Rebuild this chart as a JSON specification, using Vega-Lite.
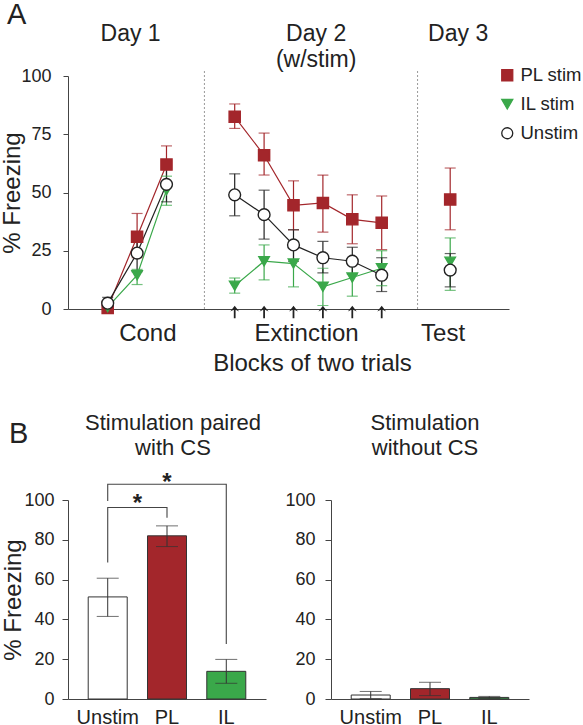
{
  "$schema": "https://vega.github.io/schema/vega-lite/v6.json",
  "padding": {"left": 0, "top": 0, "right": 0, "bottom": 0},
  "background": "white",
  "config": {
    "font": "Liberation Sans",
    "view": {"stroke": null},
    "axis": {"labelColor": "#222", "titleColor": "#222", "domainColor": "#444", "tickColor": "#444", "grid": false, "titleFontWeight": "normal", "labelFont": "Liberation Sans", "titleFont": "Liberation Sans", "labelOverlap": false},
    "title": {"color": "#222", "fontWeight": "normal", "font": "Liberation Sans"},
    "legend": {"labelFont": "Liberation Sans"}
  },
  "resolve": {"scale": {"color": "independent", "fill": "independent", "stroke": "independent", "shape": "independent", "size": "independent"}},
  "datasets": {
    "timecourse": [
      {"series": "PL stim", "seg": "cond", "x": 1.35, "y": 0.5, "lo": null, "hi": null},
      {"series": "PL stim", "seg": "cond", "x": 2.35, "y": 31, "lo": 22, "hi": 41},
      {"series": "PL stim", "seg": "cond", "x": 3.35, "y": 62, "lo": 54, "hi": 70},
      {"series": "IL stim", "seg": "cond", "x": 1.35, "y": 0.8, "lo": 0, "hi": 1.5},
      {"series": "IL stim", "seg": "cond", "x": 2.35, "y": 14.5, "lo": 10.5, "hi": 17},
      {"series": "IL stim", "seg": "cond", "x": 3.35, "y": 51, "lo": 44.5, "hi": 57},
      {"series": "Unstim", "seg": "cond", "x": 1.35, "y": 2.5, "lo": 0, "hi": 5},
      {"series": "Unstim", "seg": "cond", "x": 2.35, "y": 24, "lo": 16, "hi": 32},
      {"series": "Unstim", "seg": "cond", "x": 3.35, "y": 53.5, "lo": 46, "hi": 61},
      {"series": "PL stim", "seg": "ext", "x": 5.67, "y": 82.5, "lo": 77.5, "hi": 88},
      {"series": "PL stim", "seg": "ext", "x": 6.67, "y": 66, "lo": 57.5, "hi": 75.5},
      {"series": "PL stim", "seg": "ext", "x": 7.67, "y": 44.5, "lo": 34, "hi": 55},
      {"series": "PL stim", "seg": "ext", "x": 8.67, "y": 45.5, "lo": 33, "hi": 57.5},
      {"series": "PL stim", "seg": "ext", "x": 9.67, "y": 38.5, "lo": 28, "hi": 49},
      {"series": "PL stim", "seg": "ext", "x": 10.67, "y": 37, "lo": 25.5, "hi": 48.5},
      {"series": "IL stim", "seg": "ext", "x": 5.67, "y": 10, "lo": 6.8, "hi": 13.3},
      {"series": "IL stim", "seg": "ext", "x": 6.67, "y": 20.5, "lo": 12.5, "hi": 27.5},
      {"series": "IL stim", "seg": "ext", "x": 7.67, "y": 19.5, "lo": 9.5, "hi": 29},
      {"series": "IL stim", "seg": "ext", "x": 8.67, "y": 9.5, "lo": 1.5, "hi": 17.5},
      {"series": "IL stim", "seg": "ext", "x": 9.67, "y": 13.5, "lo": 5.5, "hi": 21},
      {"series": "IL stim", "seg": "ext", "x": 10.67, "y": 17.5, "lo": 10, "hi": 25},
      {"series": "Unstim", "seg": "ext", "x": 5.67, "y": 49, "lo": 40, "hi": 58},
      {"series": "Unstim", "seg": "ext", "x": 6.67, "y": 40.5, "lo": 30, "hi": 51},
      {"series": "Unstim", "seg": "ext", "x": 7.67, "y": 27.5, "lo": 20.5, "hi": 34},
      {"series": "Unstim", "seg": "ext", "x": 8.67, "y": 22, "lo": 15.5, "hi": 29},
      {"series": "Unstim", "seg": "ext", "x": 9.67, "y": 20.5, "lo": 15, "hi": 26.5},
      {"series": "Unstim", "seg": "ext", "x": 10.67, "y": 14.5, "lo": 7.5, "hi": 22},
      {"series": "PL stim", "seg": "test", "x": 13.0, "y": 47, "lo": 34, "hi": 60.5},
      {"series": "IL stim", "seg": "test", "x": 13.0, "y": 20.3, "lo": 8, "hi": 30.5},
      {"series": "Unstim", "seg": "test", "x": 13.0, "y": 16.7, "lo": 9.5, "hi": 23.8}
    ],
    "days": [
      {"label": "Day 1", "x": 2.13},
      {"label": "Day 2\n(w/stim)", "x": 8.44},
      {"label": "Day 3", "x": 13.27}
    ],
    "dividers": [{"pos": 4.64}, {"pos": 11.89}],
    "bars": [
      {"cond": "paired", "group": "Unstim", "mean": 51.3, "lo": 41.5, "hi": 60.7},
      {"cond": "paired", "group": "PL", "mean": 82, "lo": 76.6, "hi": 87},
      {"cond": "paired", "group": "IL", "mean": 13.9, "lo": 7.9, "hi": 19.9},
      {"cond": "without", "group": "Unstim", "mean": 2, "lo": 0.2, "hi": 3.8},
      {"cond": "without", "group": "PL", "mean": 5.2, "lo": 1.7, "hi": 8.4},
      {"cond": "without", "group": "IL", "mean": 0.8, "lo": 0.3, "hi": 1.3}
    ],
    "brackets": [
      {"b": 1, "o": 1, "group": "Unstim", "y": 68.6},
      {"b": 1, "o": 2, "group": "Unstim", "y": 96.2},
      {"b": 1, "o": 3, "group": "PL", "y": 96.2},
      {"b": 1, "o": 4, "group": "PL", "y": 91.1},
      {"b": 2, "o": 1, "group": "Unstim", "y": 99.5},
      {"b": 2, "o": 2, "group": "Unstim", "y": 107.9},
      {"b": 2, "o": 3, "group": "IL", "y": 107.9},
      {"b": 2, "o": 4, "group": "IL", "y": 27.6}
    ],
    "stars": [
      {"label": "*", "group": "Unstim", "y": 94.5, "pos": "inner"},
      {"label": "*", "group": "PL", "y": 105.2, "pos": "outer"}
    ]
  },
  "spacing": 36,
  "vconcat": [
    {
      "width": 441,
      "height": 233,
      "title": {"text": "A", "anchor": "start", "frame": "bounds", "fontSize": 29, "offset": -7, "dx": 6},
      "data": {"name": "timecourse"},
      "layer": [
        {
          "mark": {"type": "line", "strokeWidth": 1.2},
          "encoding": {
            "x": {"field": "x", "type": "quantitative", "scale": {"domain": [0, 15], "nice": false, "zero": false},
              "axis": {"values": [2.7, 8.1, 12.74], "tickCount": 20, "labelExpr": "datum.value < 5 ? 'Cond' : datum.value < 12 ? 'Extinction' : 'Test'", "ticks": false, "labelFontSize": 24, "labelPadding": 12, "labelFlush": false, "labelOverlap": false, "title": "Blocks of two trials", "titleFontSize": 24, "titlePadding": 6, "titleX": 244}},
            "y": {"field": "y", "type": "quantitative", "scale": {"domain": [0, 100], "nice": false},
              "axis": {"values": [0, 25, 50, 75, 100], "tickCount": 10, "tickSize": 5, "labelFontSize": 18, "labelPadding": 12, "labelOverlap": false, "title": "% Freezing", "titleFontSize": 24, "titlePadding": -4}},
            "color": {"field": "series", "type": "nominal", "scale": {"domain": ["Unstim", "PL stim", "IL stim"], "range": ["#222222", "#a3262b", "#3aa84a"]}, "legend": null},
            "detail": {"field": "seg"}
          }
        },
        {
          "data": {"name": "dividers"},
          "mark": {"type": "rule", "strokeDash": [2, 2], "color": "#999", "strokeWidth": 1},
          "encoding": {
            "x": {"field": "pos", "type": "quantitative"},
            "y": {"datum": 0, "type": "quantitative"},
            "y2": {"datum": 103}
          }
        },
        {
          "mark": {"type": "rule", "strokeWidth": 1.2},
          "encoding": {
            "x": {"field": "x", "type": "quantitative"},
            "y": {"field": "lo", "type": "quantitative"},
            "y2": {"field": "hi"},
            "color": {"field": "series", "type": "nominal", "legend": null}
          }
        },
        {
          "mark": {"type": "tick", "orient": "horizontal", "size": 11, "thickness": 1.2},
          "encoding": {
            "x": {"field": "x", "type": "quantitative"},
            "y": {"field": "lo", "type": "quantitative"},
            "color": {"field": "series", "type": "nominal", "legend": null}
          }
        },
        {
          "mark": {"type": "tick", "orient": "horizontal", "size": 11, "thickness": 1.2},
          "encoding": {
            "x": {"field": "x", "type": "quantitative"},
            "y": {"field": "hi", "type": "quantitative"},
            "color": {"field": "series", "type": "nominal", "legend": null}
          }
        },
        {
          "mark": {"type": "point", "opacity": 1, "strokeWidth": 1.4},
          "encoding": {
            "x": {"field": "x", "type": "quantitative"},
            "y": {"field": "y", "type": "quantitative"},
            "shape": {"field": "series", "type": "nominal", "scale": {"domain": ["PL stim", "IL stim", "Unstim"], "range": ["square", "triangle-down", "circle"]},
              "legend": {"title": null, "orient": "none", "legendX": 430, "legendY": -10, "labelFontSize": 18.5, "labelColor": "#222", "symbolSize": 121, "rowPadding": 10, "labelOffset": 4, "symbolStrokeWidth": 1.3, "padding": 0,
                "encode": {"symbols": {"shape": {"value": {"expr": "datum.value === 'PL stim' ? 'M-2,0H-1M1,0H2M-1,-1H1V1H-1Z' : datum.value === 'Unstim' ? 'M-2.3,0H-1M1,0H2.3M1,0A1,1,0,1,0,-1,0A1,1,0,1,0,1,0Z' : 'triangle-down'"}}}}}},
            "fill": {"field": "series", "type": "nominal", "scale": {"domain": ["PL stim", "IL stim", "Unstim"], "range": ["#a3262b", "#3aa84a", "#ffffff"]},
              "legend": {"title": null, "orient": "none", "legendX": 430, "legendY": -10, "labelFontSize": 18.5, "labelColor": "#222", "symbolSize": 121, "rowPadding": 10, "labelOffset": 4, "symbolStrokeWidth": 1.3, "padding": 0,
                "encode": {"symbols": {"shape": {"value": {"expr": "datum.value === 'PL stim' ? 'M-2,0H-1M1,0H2M-1,-1H1V1H-1Z' : datum.value === 'Unstim' ? 'M-2.3,0H-1M1,0H2.3M1,0A1,1,0,1,0,-1,0A1,1,0,1,0,1,0Z' : 'triangle-down'"}}}}}},
            "stroke": {"field": "series", "type": "nominal", "scale": {"domain": ["PL stim", "IL stim", "Unstim"], "range": ["#a3262b", "#3aa84a", "#222222"]},
              "legend": {"title": null, "orient": "none", "legendX": 430, "legendY": -10, "labelFontSize": 18.5, "labelColor": "#222", "symbolSize": 121, "rowPadding": 10, "labelOffset": 4, "symbolStrokeWidth": 1.3, "padding": 0,
                "encode": {"symbols": {"shape": {"value": {"expr": "datum.value === 'PL stim' ? 'M-2,0H-1M1,0H2M-1,-1H1V1H-1Z' : datum.value === 'Unstim' ? 'M-2.3,0H-1M1,0H2.3M1,0A1,1,0,1,0,-1,0A1,1,0,1,0,1,0Z' : 'triangle-down'"}}}}}},
            "size": {"field": "series", "type": "nominal", "scale": {"domain": ["IL stim", "PL stim", "Unstim"], "range": [110, 140, 160]}, "legend": null}
          }
        },
        {
          "transform": [{"filter": "datum.seg === 'ext' && datum.series === 'Unstim'"}],
          "mark": {"type": "point", "shape": "M0,-1L0.7,-0.1L0.14,-0.35L0.14,1L-0.14,1L-0.14,-0.35L-0.7,-0.1Z", "filled": true, "color": "#222", "opacity": 1, "size": 160},
          "encoding": {
            "x": {"field": "x", "type": "quantitative"},
            "y": {"datum": -1.3, "type": "quantitative"}
          }
        },
        {
          "data": {"name": "days"},
          "mark": {"type": "text", "fontSize": 23, "lineBreak": "\n", "lineHeight": 26, "baseline": "alphabetic", "align": "center", "color": "#222"},
          "encoding": {
            "x": {"field": "x", "type": "quantitative"},
            "y": {"datum": 115.2, "type": "quantitative"},
            "text": {"field": "label"}
          }
        }
      ]
    },
    {
      "title": {"text": "B", "anchor": "start", "frame": "bounds", "fontSize": 29, "offset": -37, "dx": 7},
      "spacing": 18,
      "hconcat": [
        {
          "width": 198,
          "height": 199,
          "title": {"text": ["Stimulation paired", "with CS"], "fontSize": 22, "lineHeight": 25, "anchor": "middle", "dx": 6, "offset": 11},
          "data": {"name": "bars"},
          "transform": [{"filter": "datum.cond === 'paired'"}],
          "layer": [
            {
              "mark": {"type": "bar", "width": 39, "stroke": "#333", "strokeWidth": 1},
              "encoding": {
                "x": {"field": "group", "type": "nominal", "sort": ["Unstim", "PL", "IL"], "scale": {"paddingInner": 0, "paddingOuter": 0.17},
                  "axis": {"title": null, "ticks": false, "labelFontSize": 20, "labelPadding": 8, "labelAngle": 0}},
                "y": {"field": "mean", "type": "quantitative", "scale": {"domain": [0, 100], "nice": false},
                  "axis": {"values": [0, 20, 40, 60, 80, 100], "tickCount": 12, "tickSize": 6, "labelFontSize": 18, "labelPadding": 8, "labelOverlap": false, "title": "% Freezing", "titleFontSize": 24, "titlePadding": -2}},
                "fill": {"field": "group", "type": "nominal", "scale": {"domain": ["Unstim", "PL", "IL"], "range": ["#ffffff", "#a3262b", "#3aa84a"]}, "legend": null}
              }
            },
            {
              "mark": {"type": "rule", "color": "#333", "strokeWidth": 1},
              "encoding": {
                "x": {"field": "group", "type": "nominal", "sort": ["Unstim", "PL", "IL"]},
                "y": {"field": "lo", "type": "quantitative"},
                "y2": {"field": "hi"}
              }
            },
            {
              "mark": {"type": "tick", "orient": "horizontal", "size": 22, "thickness": 1, "color": "#333"},
              "encoding": {
                "x": {"field": "group", "type": "nominal", "sort": ["Unstim", "PL", "IL"]},
                "y": {"field": "lo", "type": "quantitative"}
              }
            },
            {
              "mark": {"type": "tick", "orient": "horizontal", "size": 22, "thickness": 1, "color": "#333"},
              "encoding": {
                "x": {"field": "group", "type": "nominal", "sort": ["Unstim", "PL", "IL"]},
                "y": {"field": "hi", "type": "quantitative"}
              }
            },
            {
              "data": {"name": "brackets"},
              "mark": {"type": "line", "color": "#444", "strokeWidth": 1.1},
              "encoding": {
                "x": {"field": "group", "type": "nominal", "sort": ["Unstim", "PL", "IL"]},
                "y": {"field": "y", "type": "quantitative"},
                "detail": {"field": "b"},
                "order": {"field": "o"}
              }
            },
            {
              "data": {"name": "stars"},
              "transform": [{"filter": "datum.pos === 'inner'"}],
              "mark": {"type": "text", "fontSize": 24, "fontWeight": "bold", "color": "#222", "baseline": "alphabetic"},
              "encoding": {
                "x": {"field": "group", "type": "nominal", "sort": ["Unstim", "PL", "IL"], "bandPosition": 1},
                "y": {"field": "y", "type": "quantitative"},
                "text": {"field": "label"}
              }
            },
            {
              "data": {"name": "stars"},
              "transform": [{"filter": "datum.pos === 'outer'"}],
              "mark": {"type": "text", "fontSize": 24, "fontWeight": "bold", "color": "#222", "baseline": "alphabetic"},
              "encoding": {
                "x": {"field": "group", "type": "nominal", "sort": ["Unstim", "PL", "IL"]},
                "y": {"field": "y", "type": "quantitative"},
                "text": {"field": "label"}
              }
            }
          ]
        },
        {
          "width": 198,
          "height": 199,
          "title": {"text": ["Stimulation", "without CS"], "fontSize": 22, "lineHeight": 25, "anchor": "middle", "dx": -5, "offset": 31},
          "data": {"name": "bars"},
          "transform": [{"filter": "datum.cond === 'without'"}],
          "layer": [
            {
              "mark": {"type": "bar", "width": 39, "stroke": "#333", "strokeWidth": 1},
              "encoding": {
                "x": {"field": "group", "type": "nominal", "sort": ["Unstim", "PL", "IL"], "scale": {"paddingInner": 0, "paddingOuter": 0.17},
                  "axis": {"title": null, "ticks": false, "labelFontSize": 20, "labelPadding": 8, "labelAngle": 0}},
                "y": {"field": "mean", "type": "quantitative", "scale": {"domain": [0, 100], "nice": false},
                  "axis": {"values": [0, 20, 40, 60, 80, 100], "tickCount": 12, "tickSize": 6, "labelFontSize": 18, "labelPadding": 10, "labelOverlap": false, "title": null}},
                "fill": {"field": "group", "type": "nominal", "scale": {"domain": ["Unstim", "PL", "IL"], "range": ["#ffffff", "#a3262b", "#3aa84a"]}, "legend": null}
              }
            },
            {
              "mark": {"type": "rule", "color": "#333", "strokeWidth": 1},
              "encoding": {
                "x": {"field": "group", "type": "nominal", "sort": ["Unstim", "PL", "IL"]},
                "y": {"field": "lo", "type": "quantitative"},
                "y2": {"field": "hi"}
              }
            },
            {
              "mark": {"type": "tick", "orient": "horizontal", "size": 22, "thickness": 1, "color": "#333"},
              "encoding": {
                "x": {"field": "group", "type": "nominal", "sort": ["Unstim", "PL", "IL"]},
                "y": {"field": "lo", "type": "quantitative"}
              }
            },
            {
              "mark": {"type": "tick", "orient": "horizontal", "size": 22, "thickness": 1, "color": "#333"},
              "encoding": {
                "x": {"field": "group", "type": "nominal", "sort": ["Unstim", "PL", "IL"]},
                "y": {"field": "hi", "type": "quantitative"}
              }
            }
          ]
        }
      ]
    }
  ]
}
